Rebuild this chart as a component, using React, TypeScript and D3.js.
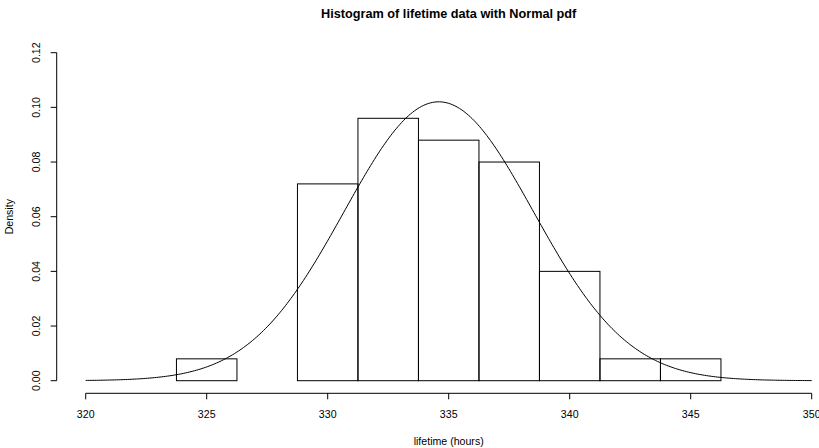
import React from "react";
import * as d3 from "d3";

const breaks = [323.75, 326.25, 328.75, 331.25, 333.75, 336.25, 338.75, 341.25, 343.75, 346.25];
const densities = [0.008, 0, 0.072, 0.096, 0.088, 0.080, 0.040, 0.008, 0.008];
const xTicks = [320, 325, 330, 335, 340, 345, 350];
const yTicks = [0, 0.02, 0.04, 0.06, 0.08, 0.10, 0.12];
const pdfMean = 334.59;
const pdfSd = 3.91;
const curveFrom = 320;
const curveTo = 350;

const W = 819;
const H = 448;
const FONT = "'Liberation Sans', Arial, Helvetica, sans-serif";

export default function App() {
  // plot region (R style, 4% extension)
  const x = d3.scaleLinear().domain([320, 350]).range([85.7, 811.7]);
  const y = d3.scaleLinear().domain([0, 0.12]).range([380.7, 52.7]);
  const axisY = 393.3;
  const axisX = 56.7;

  const pdf = (v: number) =>
    Math.exp(-0.5 * ((v - pdfMean) / pdfSd) ** 2) / (pdfSd * Math.sqrt(2 * Math.PI));
  const pts = d3.range(0, 401).map((i) => curveFrom + ((curveTo - curveFrom) * i) / 400);
  const line = d3
    .line<number>()
    .x((v) => x(v))
    .y((v) => y(pdf(v)));

  const fs = 10.6;
  return (
    <svg width={W} height={H} style={{ position: "absolute", left: 0, top: 0, background: "#fff" }}>
      <rect x={0} y={0} width={W} height={H} fill="#fff" />
      <text x={448.7} y={17.5} textAnchor="middle" fontFamily={FONT} fontWeight="bold" fontSize={12.7}>
        Histogram of lifetime data with Normal pdf
      </text>
      {densities.map((d, i) => (
        <rect
          key={i}
          x={x(breaks[i])}
          y={y(d)}
          width={x(breaks[i + 1]) - x(breaks[i])}
          height={y(0) - y(d)}
          fill="none"
          stroke="#000"
          strokeWidth={1}
        />
      ))}
      <path d={line(pts) || ""} fill="none" stroke="#000" strokeWidth={1} />
      {/* x axis */}
      <line x1={x(320)} x2={x(350)} y1={axisY} y2={axisY} stroke="#000" />
      {xTicks.map((t) => (
        <g key={t}>
          <line x1={x(t)} x2={x(t)} y1={axisY} y2={axisY + 6} stroke="#000" />
          <text x={x(t)} y={418.3} textAnchor="middle" fontFamily={FONT} fontSize={fs}>
            {t}
          </text>
        </g>
      ))}
      <text x={448.7} y={444.5} textAnchor="middle" fontFamily={FONT} fontSize={fs}>
        lifetime (hours)
      </text>
      {/* y axis */}
      <line x1={axisX} x2={axisX} y1={y(0)} y2={y(0.12)} stroke="#000" />
      {yTicks.map((t) => (
        <g key={t}>
          <line x1={axisX - 6} x2={axisX} y1={y(t)} y2={y(t)} stroke="#000" />
          <text
            transform={`translate(40.3,${y(t)}) rotate(-90)`}
            textAnchor="middle"
            fontFamily={FONT}
            fontSize={fs}
          >
            {d3.format(".2f")(t)}
          </text>
        </g>
      ))}
      <text
        transform={`translate(12.9,${(y(0) + y(0.12)) / 2}) rotate(-90)`}
        textAnchor="middle"
        fontFamily={FONT}
        fontSize={fs}
      >
        Density
      </text>
    </svg>
  );
}
